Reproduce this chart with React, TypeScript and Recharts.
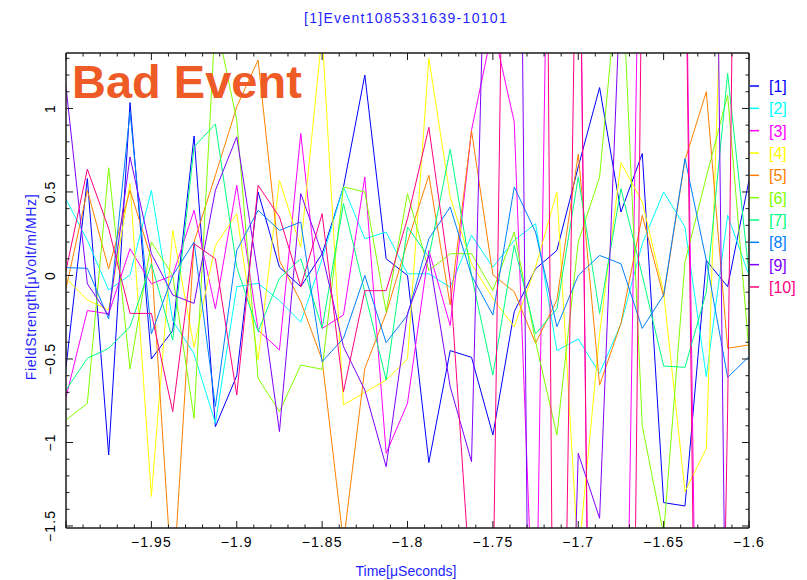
import React from 'react';
import { LineChart, Line, XAxis, YAxis } from 'recharts';

// Sample times (µs), 12.5 ns apart
const TIMES = [
  -2.0, -1.9875, -1.975, -1.9625, -1.95, -1.9375, -1.925, -1.9125, -1.9, -1.8875, -1.875,
  -1.8625, -1.85, -1.8375, -1.825, -1.8125, -1.8, -1.7875, -1.775, -1.7625, -1.75, -1.7375,
  -1.725, -1.7125, -1.7, -1.6875, -1.675, -1.6625, -1.65, -1.6375, -1.625, -1.6125, -1.6,
];

// Field strength per antenna channel (µV/m/MHz)
const CH1 = [-0.55, 0.58, -1.075, 1.035, -0.5, -0.33, 0.835, -0.905, -0.6, 0.5, 0.05, -0.067, 0.13, 0.53, 1.2, 0.1, 0.0, -1.12, -0.45, -0.49, -0.955, -0.217, 0.04, 0.15, 0.65, 1.125, 0.38, 0.73, -1.36, -1.38, 0.09, -0.067, 0.57];
const CH2 = [0.456, 0.21, -0.087, 0.003, 0.51, -0.27, -0.47, -0.885, -0.067, -0.047, -0.15, -0.28, 0.1, 0.53, 0.22, 0.26, 0.01, 0.01, -0.07, 0.24, 0.05, 0.21, 0.31, -0.45, -0.38, -0.586, -0.29, 0.19, 0.5, 0.29, -0.606, 0.36, 0.0];
const CH3 = [-0.73, -0.21, -0.23, 0.16, -0.05, 0.0, 0.39, -0.2, 0.54, -0.327, -0.446, 0.85, -0.317, -0.237, 0.59, -1.065, -0.765, 0.15, -0.3, 0.87, 1.49, 0.92, -2.5, 6.0, 3.0, -8.0, -4.55, 3.37, 4.0, 2.5, -7.0, -5.0, -3.0];
const CH4 = [-0.017, -0.147, -0.207, 0.55, -1.324, 0.27, -0.43, 0.18, 0.37, -0.506, 0.57, 0.17, 1.45, -0.775, -0.7, -0.626, -0.5, 1.3, 0.47, 0.07, -0.137, -0.307, 0.05, 0.5, -1.7, -0.35, 0.675, 0.44, -0.1, -1.294, -1.035, 3.0, 2.0];
const CH5 = [-0.08, 0.51, 0.04, 0.51, 0.1, -1.9, 0.2, 0.6, 1.01, 1.29, 0.09, -0.157, -0.506, -1.6, -0.556, -0.227, 0.2, 0.6, -0.177, 0.867, 0.003, -0.097, -0.406, -0.147, 0.727, -0.656, -0.287, 0.36, -0.127, 0.69, 1.1, -0.436, -0.416];
const CH6 = [-0.865, -0.766, 0.645, -0.56, 0.2, 0.0, -0.855, 1.54, 0.93, -0.616, -0.815, -0.536, -0.562, 0.53, 0.5, -0.217, 0.49, 0.03, 0.13, 0.13, -0.09, 0.26, -0.396, -0.955, 0.2, 0.59, 1.97, -0.9, -1.55, 0.08, 0.59, 1.08, -0.456];
const CH7 = [-0.686, -0.496, -0.436, -0.306, 0.07, -0.387, 0.77, 0.907, 0.05, -0.336, -0.017, 0.1, -0.317, 0.43, -0.1, -0.626, 0.29, 0.11, 0.755, 0.0, -0.596, 0.18, -0.35, -0.2, 0.59, -0.227, 0.52, 0.0, -0.542, -0.55, -0.1, 1.21, 0.01];
const CH8 = [0.047, 0.043, -0.26, 0.98, -0.35, 0.0, 0.2, -0.785, 0.15, 0.39, 0.27, 0.32, -0.516, -0.376, 0.0, -0.402, -0.237, 0.22, 0.41, 0.0, -0.237, 0.53, 0.26, -0.307, 0.0, 0.12, 0.07, -0.317, -0.117, 0.7, 0.09, -0.61, -0.486];
const CH9 = [1.13, -0.05, -0.24, 0.71, 0.13, -0.117, -0.167, 0.51, 0.83, 0.0, -0.935, 0.49, 0.13, -0.426, -0.686, -1.145, -0.227, 0.12, -0.666, -1.115, 3.98, 6.6, -6.85, -5.4, -1.065, -1.454, 1.8, 4.0, 6.0, 5.0, 7.67, -3.3, -4.0];
const CH10 = [0.03, 0.636, 0.28, -0.227, -0.227, -0.815, 0.19, 0.1, -0.716, 0.54, 0.35, -0.067, 0.37, -0.696, -0.091, -0.091, 0.34, 0.887, -0.03, -1.95, -2.0, 7.0, 11.5, -5.6, 3.1, -8.1, -9.5, 2.15, 3.0, 2.35, -8.0, -0.8, 10.0];

const CHANNEL_NAMES = ['[1]', '[2]', '[3]', '[4]', '[5]', '[6]', '[7]', '[8]', '[9]', '[10]'];
const CHANNEL_COLORS = ['#0000ff', '#00ffff', '#ff00ff', '#ffff00', '#ff8000', '#80ff00', '#00ff80', '#0080ff', '#8000ff', '#ff0080'];
const CHANNEL_VALUES = [CH1, CH2, CH3, CH4, CH5, CH6, CH7, CH8, CH9, CH10];

const X_LABELS = [-1.95, -1.9, -1.85, -1.8, -1.75, -1.7, -1.65, -1.6];
const Y_LABELS = [-1.5, -1, -0.5, 0, 0.5, 1];
const X_DOMAIN: [number, number] = [-2.0, -1.6];
const Y_DOMAIN: [number, number] = [-1.512, 1.332];

const TITLE = '[1]Event1085331639-10101';
const X_TITLE = 'Time[\u03bcSeconds]';
const Y_TITLE = 'FieldStrength[\u03bcVolt/m/MHz]';
const STAMP = 'Bad Event';

// Layout of the frame
const W = 807;
const H = 580;
const LEFT = 66;
const RIGHT_W = 58;
const TOP = 53;
const BOTTOM_H = 52;
const PLOT_TOP = TOP;
const PLOT_BOTTOM = H - BOTTOM_H;
const PLOT_LEFT = LEFT;
const PLOT_RIGHT = W - RIGHT_W;

const FONT = '"Liberation Sans", Arial, Helvetica, sans-serif';
const FRAME = '#1a1a1a';

const X_TICKS = Array.from({ length: 41 }, (_, i) => Math.round((-2 + i * 0.01) * 100) / 100);
const Y_TICKS = Array.from({ length: 29 }, (_, i) => Math.round((-1.5 + i * 0.1) * 10) / 10);

const rows = TIMES.map((t, i) => {
  const row: Record<string, number> = { t };
  CHANNEL_VALUES.forEach((vals, k) => {
    row['c' + k] = vals[i];
  });
  return row;
});

const fmt = (v: number) => (v < 0 ? '\u2212' + String(Math.abs(v)) : String(v));
const isMajor = (v: number, step: number) => Math.abs(v / step - Math.round(v / step)) < 1e-6;

function XTick(props: any) {
  const { x, payload } = props;
  const v = payload.value as number;
  const major = isMajor(v, 0.05);
  const len = major ? 7 : 3.5;
  const labelled = X_LABELS.some((l) => Math.abs(l - v) < 1e-9);
  return (
    <g>
      <line x1={x} x2={x} y1={PLOT_BOTTOM} y2={PLOT_BOTTOM - len} stroke={FRAME} strokeWidth={1} />
      <line x1={x} x2={x} y1={PLOT_TOP} y2={PLOT_TOP + len} stroke={FRAME} strokeWidth={1} />
      {labelled && (
        <text x={x} y={547} textAnchor="middle" fontSize={14} fontFamily={FONT} letterSpacing={1.1} fill="#000">
          {fmt(v)}
        </text>
      )}
    </g>
  );
}

function YTick(props: any) {
  const { y, payload } = props;
  const v = payload.value as number;
  const major = isMajor(v, 0.5);
  const len = major ? 7 : 3.5;
  const labelled = Y_LABELS.some((l) => Math.abs(l - v) < 1e-9);
  return (
    <g>
      <line x1={PLOT_LEFT} x2={PLOT_LEFT + len} y1={y} y2={y} stroke={FRAME} strokeWidth={1} />
      <line x1={PLOT_RIGHT} x2={PLOT_RIGHT - len} y1={y} y2={y} stroke={FRAME} strokeWidth={1} />
      {labelled && (
        <text
          transform={`translate(55, ${y}) rotate(-90)`}
          textAnchor="middle"
          fontSize={14}
          fontFamily={FONT}
          letterSpacing={1.1}
          fill="#000"
        >
          {fmt(v)}
        </text>
      )}
    </g>
  );
}

function Overlay() {
  const legendTop = 86;
  const legendStep = 22.33;
  return (
    <svg width={W} height={H} style={{ position: 'absolute', left: 0, top: 0, pointerEvents: 'none' }}>
      <text x={406} y={23} textAnchor="middle" fontSize={14} fontFamily={FONT} letterSpacing={1.3} fill="#1f1fff">
        {TITLE}
      </text>
      <text x={72} y={98} fontSize={47} fontWeight="bold" fontFamily={FONT} fill="#ee5b26">
        {STAMP}
      </text>
      <text x={406} y={576} textAnchor="middle" fontSize={14} fontFamily={FONT} fill="#1f1fff">
        {X_TITLE}
      </text>
      <text
        transform="translate(36, 287) rotate(-90)"
        textAnchor="middle"
        fontSize={14}
        fontFamily={FONT}
        letterSpacing={0.6}
        fill="#1f1fff"
      >
        {Y_TITLE}
      </text>
      {CHANNEL_NAMES.map((name, k) => {
        const y = legendTop + k * legendStep;
        return (
          <g key={name}>
            <line x1={750} x2={759} y1={y} y2={y} stroke={CHANNEL_COLORS[k]} strokeWidth={1.5} />
            <text x={769} y={y + 6} fontSize={16} fontFamily={FONT} fill={CHANNEL_COLORS[k]}>
              {name}
            </text>
          </g>
        );
      })}
    </svg>
  );
}

export default function App() {
  return (
    <div style={{ position: 'absolute', left: 0, top: 0, width: W, height: H, background: '#fff' }}>
      <LineChart width={W} height={H} data={rows} margin={{ top: 0, right: 0, bottom: 0, left: 0 }}>
        <XAxis
          dataKey="t"
          type="number"
          domain={X_DOMAIN}
          allowDataOverflow
          ticks={X_TICKS}
          interval={0}
          tickLine={false}
          axisLine={{ stroke: FRAME, strokeWidth: 1.5 }}
          height={BOTTOM_H}
          tick={(p: any) => <XTick {...p} />}
        />
        <XAxis
          xAxisId="top"
          orientation="top"
          type="number"
          domain={X_DOMAIN}
          allowDataOverflow
          tick={false}
          tickLine={false}
          axisLine={{ stroke: FRAME, strokeWidth: 1.5 }}
          height={TOP}
        />
        <YAxis
          type="number"
          domain={Y_DOMAIN}
          allowDataOverflow
          ticks={Y_TICKS}
          interval={0}
          tickLine={false}
          axisLine={{ stroke: FRAME, strokeWidth: 1.5 }}
          width={LEFT}
          tick={(p: any) => <YTick {...p} />}
        />
        <YAxis
          yAxisId="right"
          orientation="right"
          type="number"
          domain={Y_DOMAIN}
          allowDataOverflow
          tick={false}
          tickLine={false}
          axisLine={{ stroke: FRAME, strokeWidth: 1.5 }}
          width={RIGHT_W}
        />
        {CHANNEL_NAMES.map((name, k) => (
          <Line
            key={name}
            dataKey={'c' + k}
            name={name}
            type="linear"
            stroke={CHANNEL_COLORS[k]}
            strokeWidth={1}
            dot={false}
            activeDot={false}
            isAnimationActive={false}
          />
        ))}
      </LineChart>
      <Overlay />
    </div>
  );
}
